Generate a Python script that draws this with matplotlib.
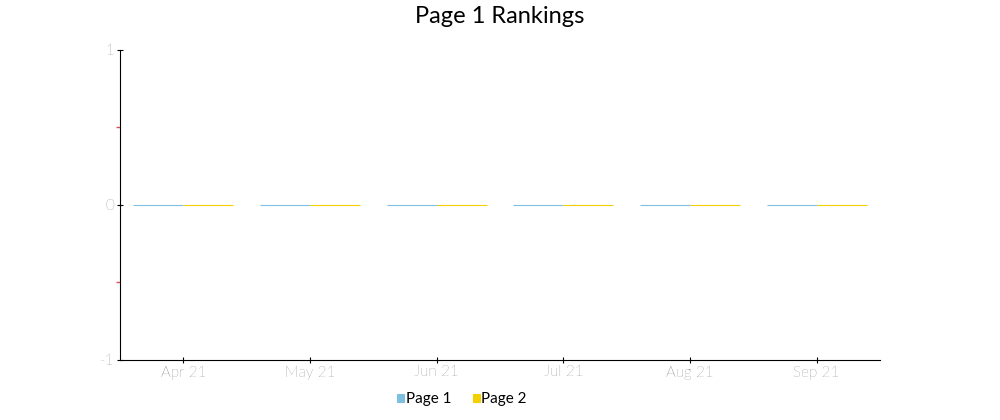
import matplotlib
matplotlib.use("Agg")
import matplotlib.pyplot as plt
import numpy as np

months = ["Apr 21", "May 21", "Jun 21", "Jul 21", "Aug 21", "Sep 21"]
page1 = [0, 0, 0, 0, 0, 0]
page2 = [0, 0, 0, 0, 0, 0]

BLUE = "#7fbfdf"
YELLOW = "#f5d000"
plt.rcParams["font.family"] = ["Lato", "DejaVu Sans"]

fig = plt.figure(figsize=(10, 4.2), dpi=100)
ax = fig.add_axes([0.12, 0.143, 0.76, 0.738])

x = np.arange(len(months))
w = 0.395
ax.bar(x - w / 2, page1, w, color=BLUE, edgecolor=BLUE, linewidth=0.8, label="Page 1")
ax.bar(x + w / 2, page2, w, color=YELLOW, edgecolor=YELLOW, linewidth=0.8, label="Page 2")

ax.set_xlim(-0.5, len(months) - 0.5)
ax.set_ylim(-1, 1)
ax.set_xticks(x)
ax.set_xticklabels(months, fontsize=11, color="#444444", fontweight="light")
ax.set_yticks([-1, 0, 1])
ax.set_yticklabels(["-1", "0", "1"], fontsize=11, color="#444444", fontweight="light")
ax.set_yticks([-0.5, 0.5], minor=True)
ax.tick_params(axis="y", which="minor", length=3, color="#e05050", width=1)
ax.tick_params(axis="both", which="major", length=4, direction="inout", pad=2)
for sp in ["top", "right"]:
    ax.spines[sp].set_visible(False)

fig.suptitle("Page 1 Rankings", y=0.985, fontsize=17)

leg = fig.legend(loc="lower center", bbox_to_anchor=(0.462, 0.0), ncol=2, frameon=False,
                 fontsize=11, handlelength=0.45, handleheight=0.45, handletextpad=0.1,
                 columnspacing=1.4)

fig.savefig("out.png", dpi=100)
